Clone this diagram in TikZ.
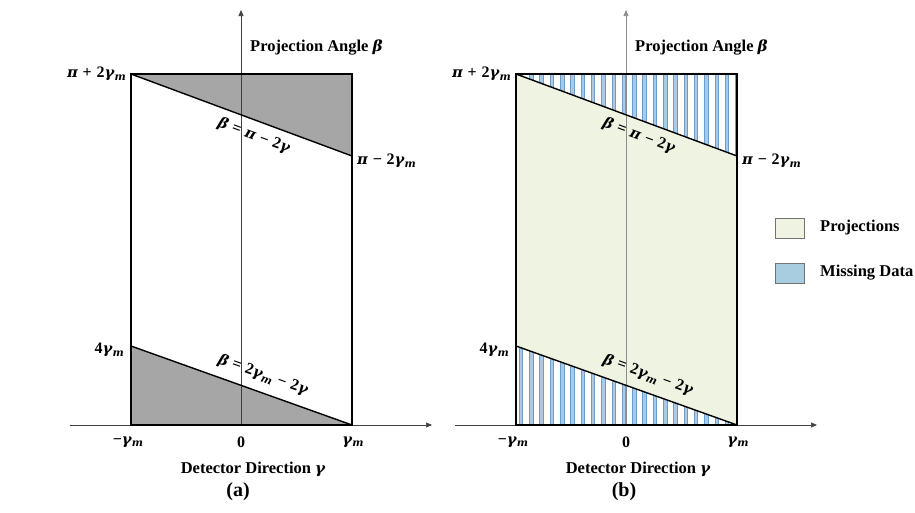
\documentclass[tikz,border=0pt]{standalone}
\usepackage{graphicx}
\usepackage{fontspec}
\setmainfont{Liberation Serif}
\newfontfamily\grk[Scale=0.92]{DejaVu Serif}
\usetikzlibrary{arrows.meta}
\definecolor{greyshade}{HTML}{A6A6A6}
\definecolor{projfill}{HTML}{EEF3E2}
\definecolor{stripe}{HTML}{A9C9E6}
\definecolor{stripeedge}{HTML}{6F9CC4}
\definecolor{legblue}{HTML}{A8CCE0}
\newcommand{\vb}{{\grk\bfseries\itshape β}}
\newcommand{\vg}{{\grk\bfseries\itshape γ}}
\newcommand{\vp}{{\grk\bfseries\itshape π}}
\newcommand{\sm}{\kern0.3pt\raisebox{-0.35ex}{\scalebox{0.72}{\grk\bfseries\itshape m}}}
\newcommand{\op}[1]{\hspace{0.3em}#1\hspace{0.3em}}
\tikzset{
  axis/.style={draw=black!75, line width=0.6pt, -{Triangle[length=6pt,width=5pt]}},
  frame/.style={draw=black, line width=1.6pt},
  bound/.style={draw=black, line width=1.4pt},
  lab/.style={font=\fontsize{16.5}{18}\selectfont\bfseries, inner sep=1pt},
  eq/.style={font=\fontsize{16}{18}\selectfont\bfseries, inner sep=1pt},
  captext/.style={font=\fontsize{20}{22}\selectfont\bfseries},
  legbox/.style={draw=black!55, line width=0.6pt, minimum width=29pt, minimum height=20pt, inner sep=0pt},
  legtext/.style={font=\fontsize{16.5}{18}\selectfont\bfseries, anchor=west, inner sep=0pt}
}
\begin{document}
\begin{tikzpicture}[x=1pt,y=-1pt]
\useasboundingbox (0,0) rectangle (915,512);
% ---------------- panel (a)
\coordinate (aTL) at (131,74);
\coordinate (aTR) at (352,74);
\coordinate (aBL) at (131,425);
\coordinate (aBR) at (352,425);
\coordinate (aR1) at (352,156);
\coordinate (aL1) at (131,346);
\fill[greyshade] (aTL) -- (aTR) -- (aR1) -- cycle;
\fill[greyshade] (aL1) -- (aBR) -- (aBL) -- cycle;
\coordinate (axS) at (70,425);
\coordinate (axE) at (432,425);
\coordinate (ayS) at (241,425);
\coordinate (ayE) at (241,10);
\draw[axis] (axS) -- (axE);
\draw[axis] (ayS) -- (ayE);
\draw[frame] (aTL) rectangle (aBR);
\draw[bound] (aTL) -- (aR1);
\draw[bound] (aL1) -- (aBR);
\node[eq, rotate=-20.4] (aeq1) at (254,136) {\vb\op{=}\vp\op{−}2\vg};
\node[eq, rotate=-19.7] (aeq2) at (263,375) {\vb\op{=}2\vg\sm\op{−}2\vg};
\node[lab, anchor=west] (aya) at (249,47) {Projection Angle \vb};
\node[eq, anchor=east] (atl) at (127,74) {\vp\op{+}2\vg\sm};
\node[eq, anchor=west] (ar1) at (356,161) {\vp\op{−}2\vg\sm};
\node[eq, anchor=east] (al1) at (125,350) {4\vg\sm};
\node[eq] (axm) at (128,442) {−\vg\sm};
\node[eq] (ax0) at (241,442) {0};
\node[eq] (axp) at (353,442) {\vg\sm};
\node[lab] (axa) at (253,469) {Detector Direction \vg};
\node[captext] (capa) at (238,492) {(a)};
% ---------------- panel (b)
\coordinate (bTL) at (516,74);
\coordinate (bTR) at (737,74);
\coordinate (bBL) at (516,425);
\coordinate (bBR) at (737,425);
\coordinate (bR1) at (737,156);
\coordinate (bL1) at (516,346);
\fill[projfill] (bTL) rectangle (bBR);
\begin{scope}
\clip (bTL) -- (bTR) -- (bR1) -- cycle;
\fill[white] (bTL) rectangle (bBR);
\foreach \i in {0,...,21} {
  \filldraw[fill=stripe, draw=stripeedge, line width=0.4pt] (519+\i*10.3,70) rectangle (522.5+\i*10.3,430);
}
\end{scope}
\begin{scope}
\clip (bL1) -- (bBR) -- (bBL) -- cycle;
\fill[white] (bTL) rectangle (bBR);
\foreach \i in {0,...,21} {
  \filldraw[fill=stripe, draw=stripeedge, line width=0.4pt] (519+\i*10.3,70) rectangle (522.5+\i*10.3,430);
}
\end{scope}
\coordinate (bxS) at (455,425);
\coordinate (bxE) at (817,425);
\coordinate (byS) at (626,425);
\coordinate (byE) at (626,10);
\draw[axis] (bxS) -- (bxE);
\draw[axis, draw=black!45] (byS) -- (byE);
\draw[frame] (bTL) rectangle (bBR);
\draw[bound] (bTL) -- (bR1);
\draw[bound] (bL1) -- (bBR);
\node[eq, rotate=-20.4] (beq1) at (639,136) {\vb\op{=}\vp\op{−}2\vg};
\node[eq, rotate=-19.7] (beq2) at (648,375) {\vb\op{=}2\vg\sm\op{−}2\vg};
\node[lab, anchor=west] (bya) at (634,47) {Projection Angle \vb};
\node[eq, anchor=east] (btl) at (512,74) {\vp\op{+}2\vg\sm};
\node[eq, anchor=west] (br1) at (741,161) {\vp\op{−}2\vg\sm};
\node[eq, anchor=east] (bl1) at (510,350) {4\vg\sm};
\node[eq] (bxm) at (513,442) {−\vg\sm};
\node[eq] (bx0) at (626,442) {0};
\node[eq] (bxp) at (738,442) {\vg\sm};
\node[lab] (bxa) at (638,469) {Detector Direction \vg};
\node[captext] (capb) at (624,492) {(b)};
% legend
\node[legbox, fill=projfill] (lg1) at (790,228) {};
\node[legtext] (lt1) at (820,228) {Projections};
\node[legbox, fill=legblue] (lg2) at (790,273) {};
\node[legtext] (lt2) at (820,273) {Missing Data};
\end{tikzpicture}
\end{document}
